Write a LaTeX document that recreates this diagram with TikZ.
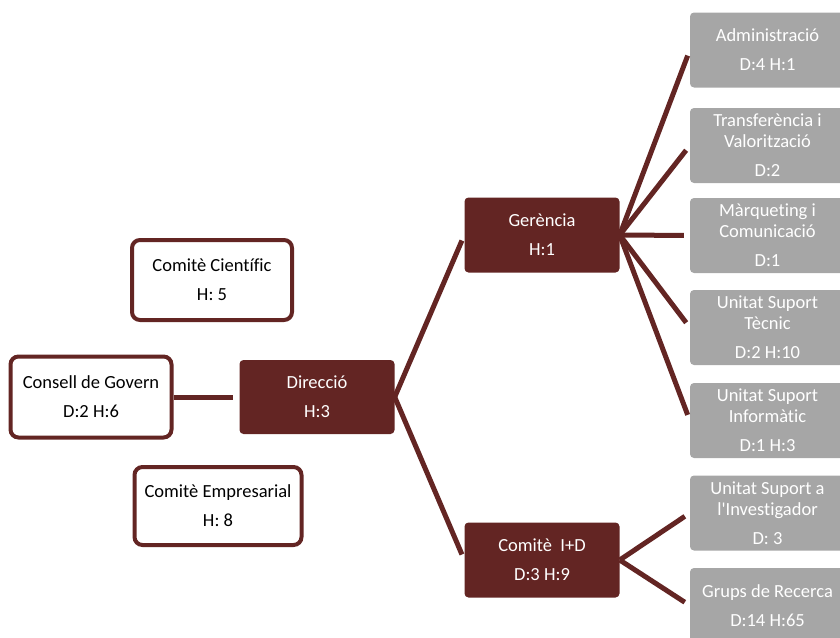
\documentclass[tikz,border=0pt]{standalone}
\usepackage{fontspec}
\setmainfont{Carlito}[Ligatures=NoCommon]
\usepackage{xcolor}
\usepackage{tikz}
\usetikzlibrary{positioning,calc}

\definecolor{granat}{HTML}{632523}
\definecolor{grisunitat}{HTML}{A6A6A6}

\begin{document}
\begin{tikzpicture}[
    x=1pt, y=-1pt,
    font=\fontsize{18.5}{21}\selectfont,
    organ/.style={draw=granat, line width=4pt, fill=white, rounded corners=8pt, align=center, inner sep=0pt},
    mando/.style={fill=granat, text=white, rounded corners=4pt, align=center, inner sep=0pt, minimum width=155pt, minimum height=75pt},
    unitat/.style={fill=grisunitat, text=white, rounded corners=4pt, align=center, inner sep=0pt, minimum width=155pt, minimum height=75pt},
    lnk/.style={draw=granat, line width=5pt, shorten >=6pt}
]
\useasboundingbox (0,0) rectangle (840,637);

% organs de govern
\node[organ, minimum width=160pt, minimum height=80pt] (cientific) at (212,280) {Comitè Científic\\[8pt]H: 5};
\node[organ, minimum width=161pt, minimum height=81pt] (govern) at (91,397) {Consell de Govern\\[8pt]D:2 H:6};
\node[organ, minimum width=167pt, minimum height=78pt] (empresarial) at (218,506) {Comitè Empresarial\\[8pt]H: 8};

% direccio i gerencia
\node[mando, minimum height=74pt] (direccio) at (317,397) {Direcció\\[8pt]H:3};
\node[mando] (gerencia) at (542,235) {Gerència\\[8pt]H:1};
\node[mando] (recerca) at (542,560) {Comitè\ \ I+D\\[8pt]D:3 H:9};

% unitats
\node[unitat] (admin) at (767.5,50) {Administració\\[8pt]D:4 H:1};
\node[unitat] (transf) at (767.5,145.5) {Transferència i\\Valorització\\[8pt]D:2};
\node[unitat] (marq) at (767.5,235.5) {Màrqueting i\\Comunicació\\[8pt]D:1};
\node[unitat] (tecnic) at (767.5,327.5) {Unitat Suport\\Tècnic\\[8pt]D:2 H:10};
\node[unitat] (informatic) at (767.5,420.5) {Unitat Suport\\Informàtic\\[8pt]D:1 H:3};
\node[unitat] (investigador) at (767.5,513) {Unitat Suport a\\l\textquotesingle Investigador\\[8pt]D: 3};
\node[unitat] (grups) at (767.5,605.5) {Grups de Recerca\\[8pt]D:14 H:65};

\draw[lnk] (govern.east) -- (direccio.west);
\draw[lnk] (direccio.east) -- (gerencia.west);
\draw[lnk] (direccio.east) -- (recerca.west);
\foreach \u in {admin,transf,marq,tecnic,informatic}
    \draw[lnk] (gerencia.east) -- (\u.west);
\foreach \u in {investigador,grups}
    \draw[lnk] (recerca.east) -- (\u.west);
\end{tikzpicture}
\end{document}
